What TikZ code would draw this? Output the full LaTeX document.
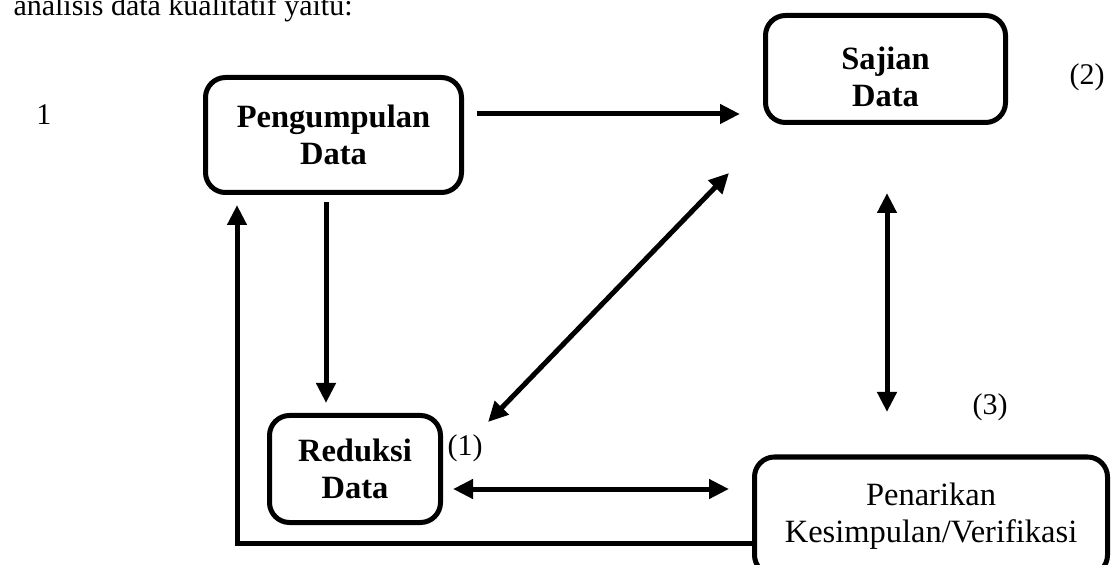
\documentclass[tikz,border=0pt]{standalone}
\usepackage{fontspec}
\setmainfont{Liberation Serif}
\usetikzlibrary{arrows.meta}
\begin{document}
\begin{tikzpicture}[x=0.4pt,y=-0.4pt,
  box/.style={draw,line width=2pt,rounded corners=8pt,align=center,inner sep=0pt,
    font=\fontsize{13}{15}\selectfont\bfseries},
  boxr/.style={box,font=\fontsize{13}{15}\selectfont},
  btext/.style={align=center,inner sep=0pt,font=\fontsize{13}{15}\selectfont\bfseries},
  arr/.style={line width=2pt,-{Triangle[length=8pt,width=7.5pt]}},
  darr/.style={line width=2pt,{Triangle[length=8pt,width=7.5pt]}-{Triangle[length=8pt,width=7.5pt]}},
  lbl/.style={font=\fontsize{12}{14}\selectfont,inner sep=0pt}]
\clip (0,0) rectangle (1113,565);
% boxes
\node[box,minimum width=102.4pt,minimum height=46pt] (pd) at (333.5,135) {Pengumpulan\\Data};
\node[box,minimum width=96pt,minimum height=42.8pt] (sd) at (885.5,69) {};
\node[btext] (sdt) at (885.5,77) {Sajian\\Data};
\node[box,minimum width=68.4pt,minimum height=42.8pt] (rd) at (355,469) {Reduksi\\Data};
\node[boxr,minimum width=141.2pt,minimum height=47.2pt] (pk) at (931,516) {Penarikan\\Kesimpulan/Verifikasi};
% texts
\node[lbl,anchor=base west] (intro) at (13,16) {analisis data kualitatif yaitu:};
\node[lbl] (n1) at (44,115) {1};
\node[lbl] (l1) at (465,448) {(1)};
\node[lbl] (l2) at (1087,77) {(2)};
\node[lbl] (l3) at (990,407) {(3)};
% arrow end points
\coordinate (a1s) at (477,114);
\coordinate (a1e) at (740,114);
\coordinate (a2s) at (326,202);
\coordinate (a2e) at (326,403);
\coordinate (d1) at (488,422);
\coordinate (d2) at (729,173);
\coordinate (v1) at (887,193);
\coordinate (v2) at (887,412);
\coordinate (h1) at (453,489);
\coordinate (h2) at (729,489);
\coordinate (fb) at (237,543);
\coordinate (fbtip) at (237,205);
% connectors
\draw[arr] (a1s) -- (a1e);
\draw[arr] (a2s) -- (a2e);
\draw[darr] (d1) -- (d2);
\draw[darr] (v1) -- (v2);
\draw[darr] (h1) -- (h2);
\draw[arr] (pk.west |- fb) -- (fb) -- (fbtip);
\end{tikzpicture}
\end{document}
